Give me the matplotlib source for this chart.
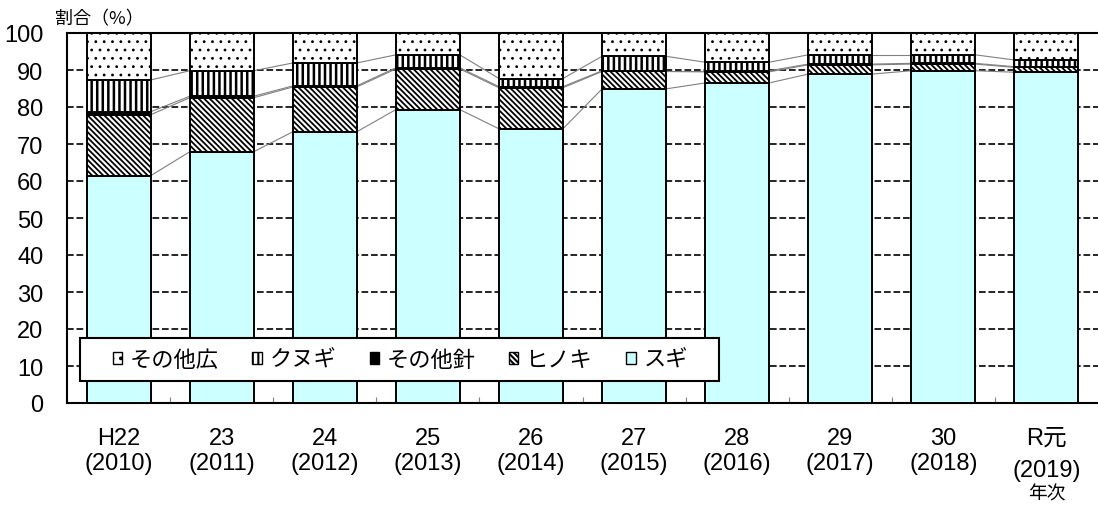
"""
Species share of log production, stacked 100% bars.
"""

import matplotlib
matplotlib.use("Agg")
import matplotlib.pyplot as plt
from matplotlib import font_manager
from matplotlib.patches import Patch, Rectangle


# ==========================================================
# Data
# ==========================================================

years = ["H22\n(2010)", "23\n(2011)", "24\n(2012)", "25\n(2013)",
         "26\n(2014)", "27\n(2015)", "28\n(2016)", "29\n(2017)",
         "30\n(2018)", "R元\n(2019)"]

sugi = [61.4, 67.9, 73.3, 79.3, 74.1, 84.9, 86.5, 88.9, 89.8, 89.4]
hinoki = [16.5, 14.6, 12.1, 11.0, 11.1, 4.7, 3.0, 2.5, 1.8, 1.3]
other_conifer = [0.8, 0.4, 0.3, 0.3, 0.3, 0.2, 0.3, 0.2, 0.2, 0.2]
kunugi = [8.6, 6.9, 6.2, 3.5, 2.2, 3.9, 2.3, 2.5, 2.3, 1.8]
other_broad = [round(100 - a - b - c - d, 1)
               for a, b, c, d in zip(sugi, hinoki, other_conifer, kunugi)]

labels = ["スギ", "ヒノキ", "その他針", "クヌギ", "その他広"]


# ==========================================================
# Fonts
# ==========================================================

names = {f.name for f in font_manager.fontManager.ttflist}
latin = "Liberation Sans Narrow" if "Liberation Sans Narrow" in names else "Liberation Sans"
plt.rcParams["font.family"] = [latin, "Noto Sans CJK JP", "DejaVu Sans"]
plt.rcParams["hatch.linewidth"] = 1.5

cjk = ["Noto Sans CJK JP", "DejaVu Sans"]

BACKSLASH = chr(92)


# ==========================================================
# Plot
# ==========================================================

fig = plt.figure(figsize=(10.98, 5.06), dpi=100)
ax = fig.add_axes([67 / 1098, 102 / 506, 1031 / 1098, 370 / 506])

series = [sugi, hinoki, other_conifer, kunugi, other_broad]
styles = [
    dict(color="#CCFFFF", hatch=None, hlw=1.0),
    dict(color="white", hatch=BACKSLASH * 6, hlw=1.3),
    dict(color="black", hatch=None, hlw=1.0),
    dict(color="white", hatch="|||", hlw=1.8),
    dict(color="white", hatch="..", hlw=0.8),
]

x = list(range(len(years)))
width = 0.62
bottom = [0.0] * len(years)
tops = []

for values, style in zip(series, styles):
    bars = ax.bar(
        x,
        values,
        width=width,
        bottom=bottom,
        color=style["color"],
        edgecolor="black",
        linewidth=1.4,
        hatch=style["hatch"],
        zorder=3
    )
    for p in bars:
        if hasattr(p, "set_hatch_linewidth"):
            p.set_hatch_linewidth(style["hlw"])
    bottom = [b + v for b, v in zip(bottom, values)]
    tops.append(list(bottom))

# series lines between neighbouring bars
for level in tops[:-1]:
    for i in range(len(x) - 1):
        ax.plot(
            [x[i] + width / 2, x[i + 1] - width / 2],
            [level[i], level[i + 1]],
            color="#808080",
            linewidth=0.8,
            zorder=2
        )

ax.set_xlim(-0.5, len(years) - 0.5)
ax.set_ylim(0, 100)
ax.set_yticks(range(0, 101, 10))

ax.yaxis.grid(True, color="black", linewidth=1.2,
              linestyle=(0, (4, 1.7)), zorder=1)
ax.set_axisbelow(True)

ax.tick_params(axis="y", length=0, pad=17, labelsize=17)
ax.set_xticks(x)
ax.set_xticklabels(years)
ax.tick_params(axis="x", length=0, pad=17, labelsize=17)
ax.get_xticklabels()[-1].set_linespacing(1.6)

ax.set_xticks([i + 0.5 for i in x[:-1]], minor=True)
ax.tick_params(axis="x", which="minor", direction="in",
               length=4, width=0.8, color="#808080")

for side in ["left", "bottom", "top"]:
    ax.spines[side].set_linewidth(1.5)
ax.spines["right"].set_visible(False)

fig.text(55 / 1098, 1 - 19 / 506, "割合（%）", family=cjk,
         fontsize=13, ha="left", va="center")
fig.text(1047 / 1098, 1 - 494 / 506, "年次", family=cjk,
         fontsize=13.5, ha="center", va="center")

# legend (box drawn separately to keep the wide inner margins)
ax.add_patch(Rectangle(
    (13 / 1031, 22 / 370), 639 / 1031, 43 / 370,
    transform=ax.transAxes,
    facecolor="white",
    edgecolor="black",
    linewidth=1.5,
    zorder=6,
    clip_on=False
))

handles = [
    Patch(facecolor=s["color"], edgecolor="black", hatch=s["hatch"],
          linewidth=1.0)
    for s in styles
][::-1]

leg = ax.legend(
    handles,
    labels[::-1],
    ncol=5,
    loc="center left",
    bbox_to_anchor=(46 / 1031, 43.5 / 370),
    frameon=False,
    handlelength=0.42,
    handleheight=0.42,
    handletextpad=0.35,
    columnspacing=1.5,
    borderpad=0,
    borderaxespad=0,
    prop={"family": cjk, "size": 16}
)
leg.set_zorder(7)

fig.savefig("out.png", dpi=100)
